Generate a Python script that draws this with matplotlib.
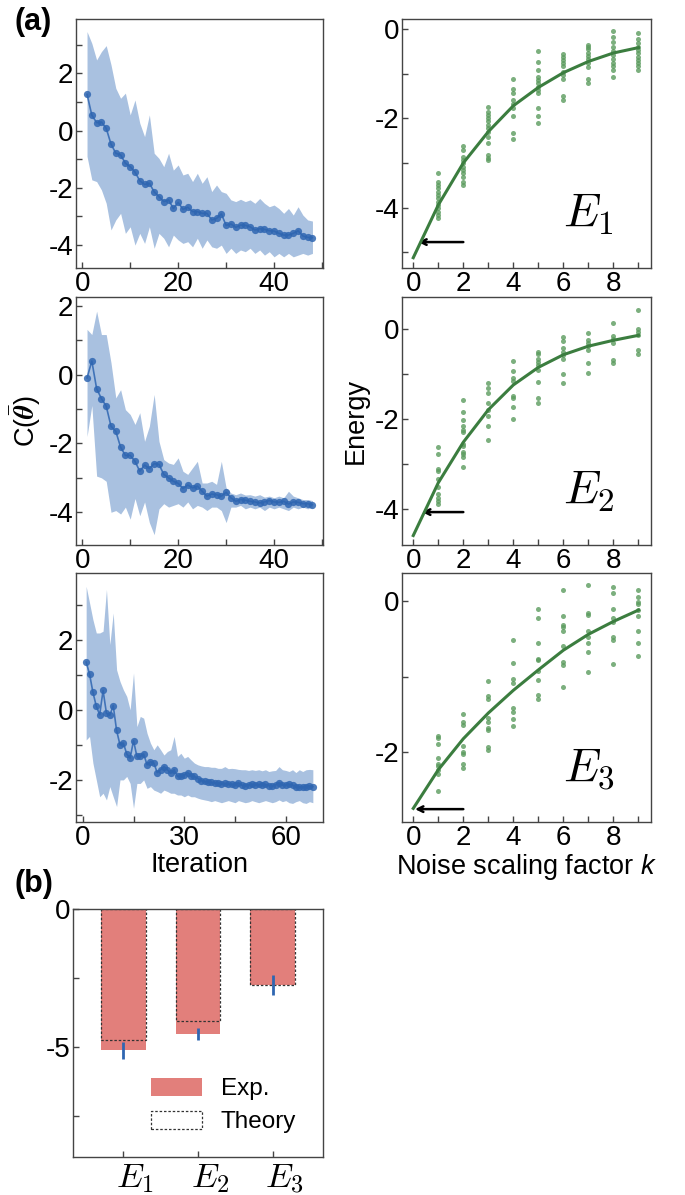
import matplotlib
matplotlib.use("Agg")
import matplotlib.pyplot as plt
import numpy as np
from matplotlib.ticker import MultipleLocator
from matplotlib.transforms import ScaledTranslation, blended_transform_factory

plt.rcParams["font.family"] = ["Liberation Sans", "DejaVu Sans"]
plt.rcParams["axes.unicode_minus"] = False
plt.rcParams["mathtext.fontset"] = "cm"
plt.rcParams["mathtext.rm"] = "Liberation Sans"
plt.rcParams["mathtext.it"] = "Liberation Sans:italic"
plt.rcParams["mathtext.bf"] = "Liberation Sans:bold"

# ───────────────────────── left column: cost vs iteration ─────────────────────────
cost1_mean = [1.27, 0.54, 0.28, 0.30, 0.08, -0.47, -0.79, -0.85, -1.14, -1.26,
              -1.45, -1.75, -1.88, -1.84, -2.14, -2.31, -2.48, -2.42, -2.72, -2.51,
              -2.75, -2.68, -2.83, -2.83, -2.89, -2.89, -3.12, -3.07, -2.91, -3.31,
              -3.26, -3.38, -3.30, -3.31, -3.36, -3.47, -3.43, -3.45, -3.50, -3.51,
              -3.59, -3.65, -3.65, -3.59, -3.50, -3.68, -3.73, -3.74]
cost1_hi = [3.46, 3.05, 2.47, 2.76, 2.97, 2.30, 1.48, 1.13, 1.31, 0.55,
            1.07, 0.26, -0.21, 0.55, -0.79, -0.97, -1.26, -0.79, -1.38, -1.20,
            -1.55, -1.49, -1.78, -1.49, -1.84, -1.61, -2.13, -1.90, -2.13, -2.19,
            -2.42, -2.48, -2.40, -2.48, -2.42, -2.54, -2.37, -2.54, -2.66, -2.60,
            -2.72, -2.89, -2.72, -2.95, -2.66, -2.95, -3.12, -3.16]
cost1_lo = [-0.90, -1.72, -1.78, -2.07, -2.54, -3.47, -3.12, -2.89, -3.59, -3.36,
            -4.00, -3.59, -3.94, -3.36, -4.11, -3.59, -3.76, -4.06, -3.65, -3.82,
            -3.94, -3.88, -4.06, -3.76, -4.11, -3.82, -4.06, -4.11, -4.00, -4.29,
            -4.11, -4.29, -4.17, -4.23, -4.11, -4.29, -4.17, -4.35, -4.23, -4.41,
            -4.29, -4.41, -4.29, -4.41, -4.35, -4.29, -4.35, -4.29]

cost2_mean = [-0.10, 0.39, -0.41, -0.70, -0.92, -1.50, -1.65, -2.11, -2.35, -2.35,
              -2.52, -2.81, -2.63, -2.73, -2.59, -2.61, -2.90, -3.00, -3.10, -3.16,
              -3.31, -3.21, -3.29, -3.24, -3.39, -3.53, -3.47, -3.49, -3.53, -3.42,
              -3.58, -3.68, -3.63, -3.65, -3.68, -3.70, -3.73, -3.70, -3.66, -3.70,
              -3.71, -3.68, -3.76, -3.70, -3.71, -3.75, -3.75, -3.78]
cost2_hi = [1.31, 1.16, 1.84, 1.16, 1.16, 0.34, -0.68, -0.44, -1.02, -1.16,
            -1.45, -1.11, -1.94, -1.50, -0.58, -1.94, -2.47, -2.57, -2.61, -2.42,
            -2.81, -2.90, -2.71, -2.52, -3.15, -3.15, -3.10, -3.19, -2.52, -3.29,
            -3.44, -3.49, -3.44, -3.50, -3.49, -3.53, -3.49, -3.56, -3.53, -3.58,
            -3.53, -3.58, -3.39, -3.53, -3.58, -3.63, -3.63, -3.66]
cost2_lo = [-1.80, -0.90, -2.95, -3.00, -3.10, -4.00, -3.95, -4.05, -3.85, -4.20,
            -3.60, -4.10, -3.70, -4.30, -4.65, -3.90, -3.75, -3.85, -3.80, -3.75,
            -3.85, -3.70, -3.90, -3.80, -3.85, -3.95, -3.85, -3.85, -3.95, -4.30,
            -3.85, -3.85, -3.80, -3.90, -3.85, -3.90, -3.85, -3.95, -3.85, -3.90,
            -3.85, -3.90, -3.95, -3.85, -3.90, -3.85, -3.90, -3.85]

cost3_mean = [1.36, 1.02, 0.50, 0.10, -0.14, 0.55, -0.10, -0.16, 0.12, -0.59,
              -1.00, -0.95, -1.26, -1.38, -0.88, -1.33, -1.33, -1.26, -1.57, -1.48,
              -1.52, -1.79, -1.71, -1.62, -1.71, -1.81, -1.71, -1.90, -1.90, -1.86,
              -1.79, -1.89, -1.90, -1.96, -2.02, -2.04, -2.06, -2.07, -2.08, -2.10,
              -2.11, -2.10, -2.13, -2.12, -2.14, -2.08, -2.15, -2.17, -2.14, -2.13,
              -2.15, -2.13, -2.15, -2.13, -2.16, -2.17, -2.14, -2.08, -2.15, -2.14,
              -2.12, -2.15, -2.19, -2.21, -2.19, -2.21, -2.17, -2.19]
cost3_hi = [3.52, 3.05, 2.57, 2.19, 2.19, 2.24, 3.43, 1.86, 2.76, 1.14,
            0.81, 0.57, 0.38, 0.00, 1.05, -0.48, -0.19, -0.24, -0.67, -0.95,
            -1.14, -1.00, -1.14, -1.29, -1.19, -1.14, -0.76, -1.33, -1.24, -1.38,
            -1.33, -1.43, -1.52, -1.57, -1.60, -1.62, -1.62, -1.64, -1.64, -1.67,
            -1.67, -1.62, -1.68, -1.67, -1.68, -1.70, -1.71, -1.71, -1.73, -1.71,
            -1.73, -1.71, -1.74, -1.71, -1.76, -1.74, -1.73, -1.62, -1.71, -1.73,
            -1.76, -1.71, -1.79, -1.71, -1.76, -1.71, -1.70, -1.71]
cost3_lo = [-0.86, -0.76, -1.52, -2.00, -2.48, -2.38, -2.57, -2.19, -2.48, -2.76,
            -2.00, -2.00, -1.90, -2.10, -2.81, -2.10, -2.10, -2.00, -2.24, -2.19,
            -2.29, -2.33, -2.38, -2.29, -2.33, -2.38, -2.38, -2.43, -2.43, -2.48,
            -2.43, -2.48, -2.48, -2.52, -2.55, -2.57, -2.59, -2.62, -2.59, -2.62,
            -2.65, -2.62, -2.59, -2.62, -2.65, -2.59, -2.62, -2.65, -2.63, -2.59,
            -2.62, -2.65, -2.62, -2.59, -2.62, -2.65, -2.62, -2.57, -2.62, -2.59,
            -2.65, -2.67, -2.62, -2.59, -2.65, -2.67, -2.62, -2.65]

# ───────────────────── right column: energy vs noise scaling k ─────────────────────
noise_k = [1, 2, 3, 4, 5, 6, 7, 8, 9]
curve_k = [0, 1, 2, 3, 4, 5, 6, 7, 8, 9]

e1_samples = [
    [-3.23, -3.42, -3.49, -3.57, -3.64, -3.72, -3.79, -3.87, -3.94, -4.01, -4.09, -4.16, -4.24],
    [-2.63, -2.71, -2.86, -2.93, -3.01, -3.08, -3.16, -3.23, -3.31, -3.42, -3.49],
    [-1.75, -1.85, -1.93, -2.00, -2.07, -2.15, -2.22, -2.30, -2.41, -2.56, -2.82, -2.90, -2.93],
    [-1.13, -1.35, -1.44, -1.59, -1.68, -1.78, -1.96, -2.34, -2.47],
    [-0.49, -0.75, -0.93, -1.07, -1.14, -1.22, -1.29, -1.37, -1.44, -1.78, -1.96, -2.10],
    [-0.57, -0.62, -0.69, -0.77, -0.84, -0.96, -1.03, -1.13, -1.50, -1.59],
    [-0.36, -0.40, -0.46, -0.53, -0.60, -0.68, -0.77, -0.86, -1.13, -1.22],
    [-0.04, -0.19, -0.30, -0.40, -0.49, -0.58, -0.68, -0.77, -0.84, -0.92, -1.07],
    [-0.10, -0.23, -0.31, -0.40, -0.47, -0.54, -0.62, -0.69, -0.77, -0.84, -0.92],
]
e1_fit = [-5.12, -3.94, -3.00, -2.30, -1.72, -1.31, -0.98, -0.73, -0.54, -0.42]

e2_samples = [
    [-2.63, -2.78, -3.11, -3.15, -3.33, -3.52, -3.67, -3.76, -3.83, -3.89],
    [-1.58, -1.85, -2.02, -2.17, -2.24, -2.30, -2.56, -2.61, -2.74, -2.78, -2.85, -3.06],
    [-1.21, -1.31, -1.44, -1.65, -1.80, -1.93, -2.15, -2.47],
    [-0.72, -0.94, -1.09, -1.16, -1.50, -1.53, -1.74, -2.00],
    [-0.52, -0.57, -0.67, -0.74, -0.81, -0.91, -1.19, -1.53, -1.65],
    [-0.19, -0.27, -0.42, -0.52, -0.59, -0.67, -1.00, -1.21],
    [-0.10, -0.26, -0.33, -0.39, -0.47, -0.76, -0.99],
    [0.13, -0.17, -0.24, -0.32, -0.69, -0.76],
    [0.42, 0.00, -0.07, -0.15, -0.47, -0.57],
]
e2_fit = [-4.59, -3.42, -2.52, -1.80, -1.25, -0.86, -0.58, -0.39, -0.26, -0.15]

e3_samples = [
    [-1.78, -1.81, -1.89, -2.08, -2.15, -2.18, -2.23, -2.29, -2.51],
    [-1.49, -1.60, -1.64, -1.92, -1.99, -2.02, -2.15, -2.21],
    [-1.06, -1.25, -1.29, -1.55, -1.60, -1.68, -1.71, -1.93, -1.97],
    [-0.52, -0.82, -1.03, -1.09, -1.42, -1.46, -1.56, -1.65],
    [-0.10, -0.22, -0.56, -0.77, -0.78, -0.92, -1.05, -1.24, -1.30],
    [0.15, -0.20, -0.32, -0.34, -0.40, -0.60, -0.80, -0.85, -1.13],
    [0.21, -0.16, -0.19, -0.40, -0.47, -0.55, -0.67, -0.94],
    [0.19, 0.10, -0.10, -0.23, -0.28, -0.47, -0.51, -0.83],
    [0.15, 0.05, -0.01, -0.04, -0.12, -0.20, -0.39, -0.56, -0.73],
]
e3_fit = [-2.74, -2.23, -1.82, -1.48, -1.18, -0.91, -0.65, -0.44, -0.27, -0.12]

# ─────────────────────────── (b) bar comparison ───────────────────────────
levels = ["$E_1$", "$E_2$", "$E_3$"]
energy_exp = [-5.13, -4.55, -2.76]
energy_err = [0.30, 0.22, 0.36]
energy_theory = [-4.77, -4.07, -2.75]

BLUE = "#2f66b1"
BAND = "#a9c1e0"
GREEN = "#3b7d3f"
DOT = "#5b9b5e"
RED = "#e27f7b"
SPINE = "#444444"

W, H = 685, 1195
fig = plt.figure(figsize=(W / 100, H / 100), dpi=100)


def box(left, top, right, bottom):
    return [left / W, 1 - bottom / H, (right - left) / W, (bottom - top) / H]


def style(ax, xmaj, xmin, ymaj, ymin):
    ax.xaxis.set_major_locator(MultipleLocator(xmaj))
    ax.xaxis.set_minor_locator(MultipleLocator(xmin))
    ax.yaxis.set_major_locator(MultipleLocator(ymaj))
    ax.yaxis.set_minor_locator(MultipleLocator(ymin))
    ax.tick_params(which="both", direction="in", length=4, width=1,
                   color=SPINE, labelsize=20, pad=2)
    for sp in ax.spines.values():
        sp.set_color(SPINE)
        sp.set_linewidth(1.0)


def cost_panel(ax, mean, lo, hi):
    it = np.arange(1, len(mean) + 1)
    ax.fill_between(it, lo, hi, color=BAND, lw=0)
    ax.plot(it, mean, "-o", color=BLUE, lw=1.2, ms=5.2, alpha=0.85,
            markeredgewidth=0)


def energy_panel(ax, samples, fit, theory, tip, name):
    for k, vals in zip(noise_k, samples):
        ax.scatter([k] * len(vals), vals, s=13, color=DOT, alpha=0.8,
                   linewidths=0, zorder=2)
    ax.annotate("", xy=(tip, theory), xytext=(2, theory),
                arrowprops=dict(arrowstyle="->", color="black", lw=1.8,
                                shrinkA=0, shrinkB=0), zorder=3)
    ax.plot(curve_k, fit, color=GREEN, lw=2.2, zorder=4)
    ax.text(0.645, 0.165, name, transform=ax.transAxes, fontsize=34,
            ha="left", va="baseline")


rows = [(19, 268), (297, 545), (573, 822)]

ax1 = fig.add_axes(box(76, rows[0][0], 323, rows[0][1]))
cost_panel(ax1, cost1_mean, cost1_lo, cost1_hi)
ax1.set_xlim(-1.3, 50.2)
ax1.set_ylim(-4.8, 3.9)
style(ax1, 20, 10, 2, 1)

ax2 = fig.add_axes(box(76, rows[1][0], 323, rows[1][1]))
cost_panel(ax2, cost2_mean, cost2_lo, cost2_hi)
ax2.set_xlim(-1.3, 50.2)
ax2.set_ylim(-4.95, 2.25)
style(ax2, 20, 10, 2, 1)
ax2.set_ylabel(r"C($\bar{\boldsymbol{\theta}}$)", fontsize=19.5, labelpad=4)

ax3 = fig.add_axes(box(76, rows[2][0], 323, rows[2][1]))
cost_panel(ax3, cost3_mean, cost3_lo, cost3_hi)
ax3.set_xlim(-2.0, 71.0)
ax3.set_ylim(-3.2, 3.9)
style(ax3, 30, 15, 2, 1)
ax3.set_xlabel("Iteration", fontsize=19.5, labelpad=1)

bx1 = fig.add_axes(box(402, rows[0][0], 651, rows[0][1]))
energy_panel(bx1, e1_samples, e1_fit, energy_theory[0], 0.2, "$E_1$")
bx1.set_xlim(-0.45, 9.5)
bx1.set_ylim(-5.35, 0.22)
style(bx1, 2, 1, 2, 1)

bx2 = fig.add_axes(box(402, rows[1][0], 651, rows[1][1]))
energy_panel(bx2, e2_samples, e2_fit, energy_theory[1], 0.35, "$E_2$")
bx2.set_xlim(-0.45, 9.5)
bx2.set_ylim(-4.8, 0.7)
style(bx2, 2, 1, 2, 1)
bx2.set_ylabel("Energy", fontsize=19.5, labelpad=4)

bx3 = fig.add_axes(box(402, rows[2][0], 651, rows[2][1]))
energy_panel(bx3, e3_samples, e3_fit, energy_theory[2], 0.07, "$E_3$")
bx3.set_xlim(-0.45, 9.5)
bx3.set_ylim(-2.92, 0.37)
style(bx3, 2, 1, 2, 1)
bx3.set_xlabel("Noise scaling factor $k$", fontsize=19.5, labelpad=1,
               math_fontfamily="custom")

# (b)
cx = fig.add_axes(box(73, 909, 323, 1157))
pos = np.arange(len(levels))
cx.bar(pos, energy_exp, width=0.6, color=RED, lw=0, label="Exp.")
cx.bar(pos, energy_theory, width=0.6, facecolor="none", edgecolor="#333333",
       lw=0.9, ls=(0, (2, 1.5)), label="Theory")
cx.errorbar(pos, energy_exp, yerr=energy_err, fmt="none", ecolor=BLUE,
            elinewidth=2, capsize=0)
cx.set_xlim(-0.67, 2.67)
cx.set_ylim(-9, 0)
style(cx, 1, 1, 5, 2.5)
cx.set_xticks(pos)
cx.set_xticklabels([])
# level names sit slightly right of their ticks, as in the original
lab_tr = blended_transform_factory(cx.transData, cx.transAxes) + \
    ScaledTranslation(0.12, -0.05, fig.dpi_scale_trans)
for p, name in zip(pos, levels):
    cx.text(p, 0, name, transform=lab_tr, fontsize=25, ha="center", va="top")
cx.legend(loc="lower left", bbox_to_anchor=(0.31, 0.095), frameon=False,
          fontsize=17.5, handlelength=2.1, handleheight=0.75,
          handletextpad=0.8, labelspacing=0.45, borderpad=0, borderaxespad=0)

fig.text(15 / W, 1 - 22 / H, "(a)", fontsize=22, fontweight="bold", va="center")
fig.text(15 / W, 1 - 884 / H, "(b)", fontsize=22, fontweight="bold", va="center")

fig.savefig("out.png", dpi=100)
